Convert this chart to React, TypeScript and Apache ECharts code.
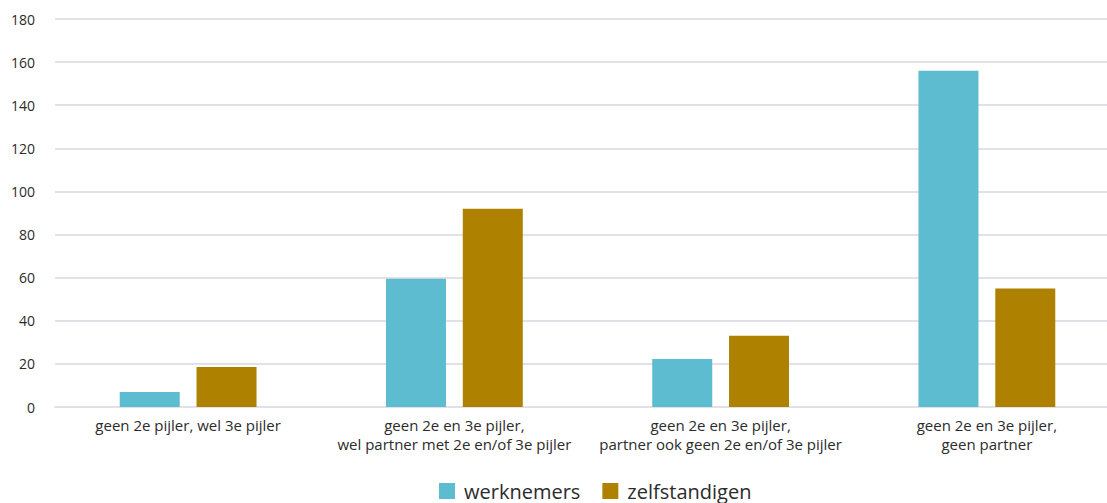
import React, { useEffect, useRef } from "react";
import * as echarts from "echarts";

const categories = [
  "geen 2e pijler, wel 3e pijler",
  "geen 2e en 3e pijler,\nwel partner met 2e en/of 3e pijler",
  "geen 2e en 3e pijler,\npartner ook geen 2e en/of 3e pijler",
  "geen 2e en 3e pijler,\ngeen partner",
];
const werknemers = [7, 59.5, 22.3, 156];
const zelfstandigen = [18.5, 92, 33, 55];
const yTicks = { min: 0, max: 180, interval: 20 };

const FONT = "'Open Sans', 'Noto Sans', sans-serif";

export default function App() {
  const ref = useRef<HTMLDivElement>(null);
  useEffect(() => {
    if (!ref.current) return;
    const chart = echarts.init(ref.current, null, { renderer: "svg" });
    chart.setOption({
      animation: false,
      textStyle: { fontFamily: FONT },
      grid: {
        left: 55,
        width: 1065,
        top: 19,
        height: 388,
        containLabel: false,
        outerBoundsMode: "none",
      },
      legend: {
        top: 476,
        left: 434,
        itemWidth: 16,
        itemHeight: 16,
        itemGap: 22,
        icon: "rect",
        textStyle: { fontSize: 20, color: "#2b2b2b", fontFamily: FONT, padding: [0, 0, 0, 4] },
        data: ["werknemers", "zelfstandigen"],
      },
      xAxis: {
        type: "category",
        data: categories,
        axisTick: { show: false },
        axisLine: { show: true, lineStyle: { color: "#e2e1e8", width: 2 } },
        axisLabel: {
          color: "#2b2b2b",
          fontSize: 15,
          lineHeight: 19,
          margin: 8,
          interval: 0,
          fontFamily: FONT,
        },
      },
      yAxis: {
        type: "value",
        min: yTicks.min,
        max: yTicks.max,
        interval: yTicks.interval,
        axisLine: { show: false },
        axisTick: { show: false },
        splitLine: { lineStyle: { color: "#e2e1e8", width: 2 } },
        axisLabel: { color: "#2b2b2b", fontSize: 14, margin: 20, fontFamily: FONT },
      },
      series: [
        {
          name: "werknemers",
          type: "bar",
          data: werknemers,
          barWidth: 60,
          barGap: "28%",
          itemStyle: { color: "#5dbcd0" },
        },
        {
          name: "zelfstandigen",
          type: "bar",
          data: zelfstandigen,
          barWidth: 60,
          barGap: "28%",
          itemStyle: { color: "#ae8100" },
        },
      ],
    });
    return () => chart.dispose();
  }, []);
  return (
    <div
      ref={ref}
      style={{ position: "fixed", left: 0, top: 0, width: 1107, height: 503, background: "#fff" }}
    />
  );
}
